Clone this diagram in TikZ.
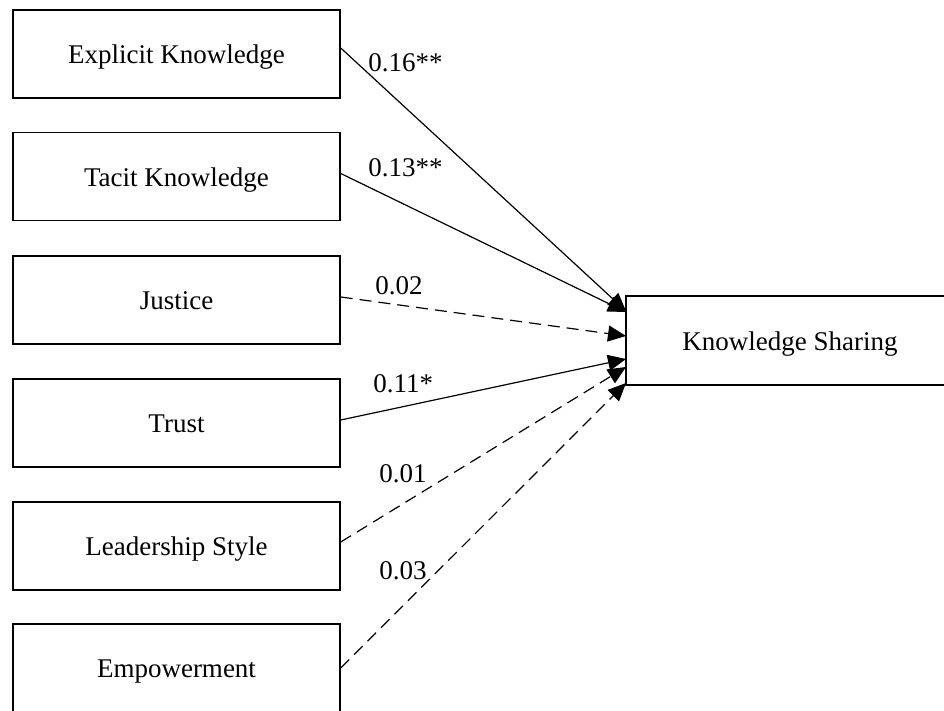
\documentclass[tikz,border=0pt]{standalone}
\usepackage{fontspec}
\setmainfont{Liberation Serif}
\usetikzlibrary{arrows.meta}

\tikzset{
  varbox/.style={draw, line width=0.75pt, rectangle, inner sep=0pt,
    minimum width=163.5pt, minimum height=44pt,
    text height=9.8pt, text depth=0pt,
    font=\fontsize{13.5}{16}\selectfont},
  outbox/.style={varbox, minimum width=164pt, minimum height=44.5pt},
  coef/.style={anchor=base west, inner sep=0pt, font=\fontsize{13.5}{16}\selectfont},
  path/.style={line width=0.6pt, -{Triangle[length=9pt, width=8pt]}},
  sig/.style={path},
  nonsig/.style={path, dash pattern=on 6pt off 3.5pt}
}

\begin{document}
\begin{tikzpicture}[x=0.5pt, y=-0.5pt]
  \useasboundingbox (0,0) rectangle (944,711);
  \clip (0,0) rectangle (944,711);

  % predictors
  \node[varbox] (ek) at (176.5,54)   {Explicit Knowledge};
  \node[varbox] (tk) at (176.5,176.5) {Tacit Knowledge};
  \node[varbox] (ju) at (176.5,300)  {Justice};
  \node[varbox] (tr) at (176.5,423)  {Trust};
  \node[varbox] (ls) at (176.5,546)  {Leadership Style};
  \node[varbox] (em) at (176.5,668)  {Empowerment};

  % outcome
  \node[outbox] (ks) at (790,340.5) {Knowledge Sharing};

  % arrow tips on the left side of the outcome box
  \coordinate (tek) at (626,311);
  \coordinate (ttk) at (626,312);
  \coordinate (tju) at (626,336);
  \coordinate (ttr) at (626,359);
  \coordinate (tls) at (626,367);
  \coordinate (tem) at (626,383);

  % paths
  \draw[sig]    ([yshift=3pt]ek.east) -- (tek);
  \draw[sig]    ([yshift=1.5pt]tk.east) -- (ttk);
  \draw[nonsig] ([yshift=1.5pt]ju.east) -- (tju);
  \draw[sig]    ([yshift=1.5pt]tr.east) -- (ttr);
  \draw[nonsig] ([yshift=2pt]ls.east) -- (tls);
  \draw[nonsig] (em.east) -- (tem);

  % path coefficients
  \node[coef] (cek) at (368,72)  {0.16**};
  \node[coef] (ctk) at (368,177) {0.13**};
  \node[coef] (cju) at (375,295) {0.02};
  \node[coef] (ctr) at (373,393) {0.11*};
  \node[coef] (cls) at (379,483) {0.01};
  \node[coef] (cem) at (379,580) {0.03};
\end{tikzpicture}
\end{document}
